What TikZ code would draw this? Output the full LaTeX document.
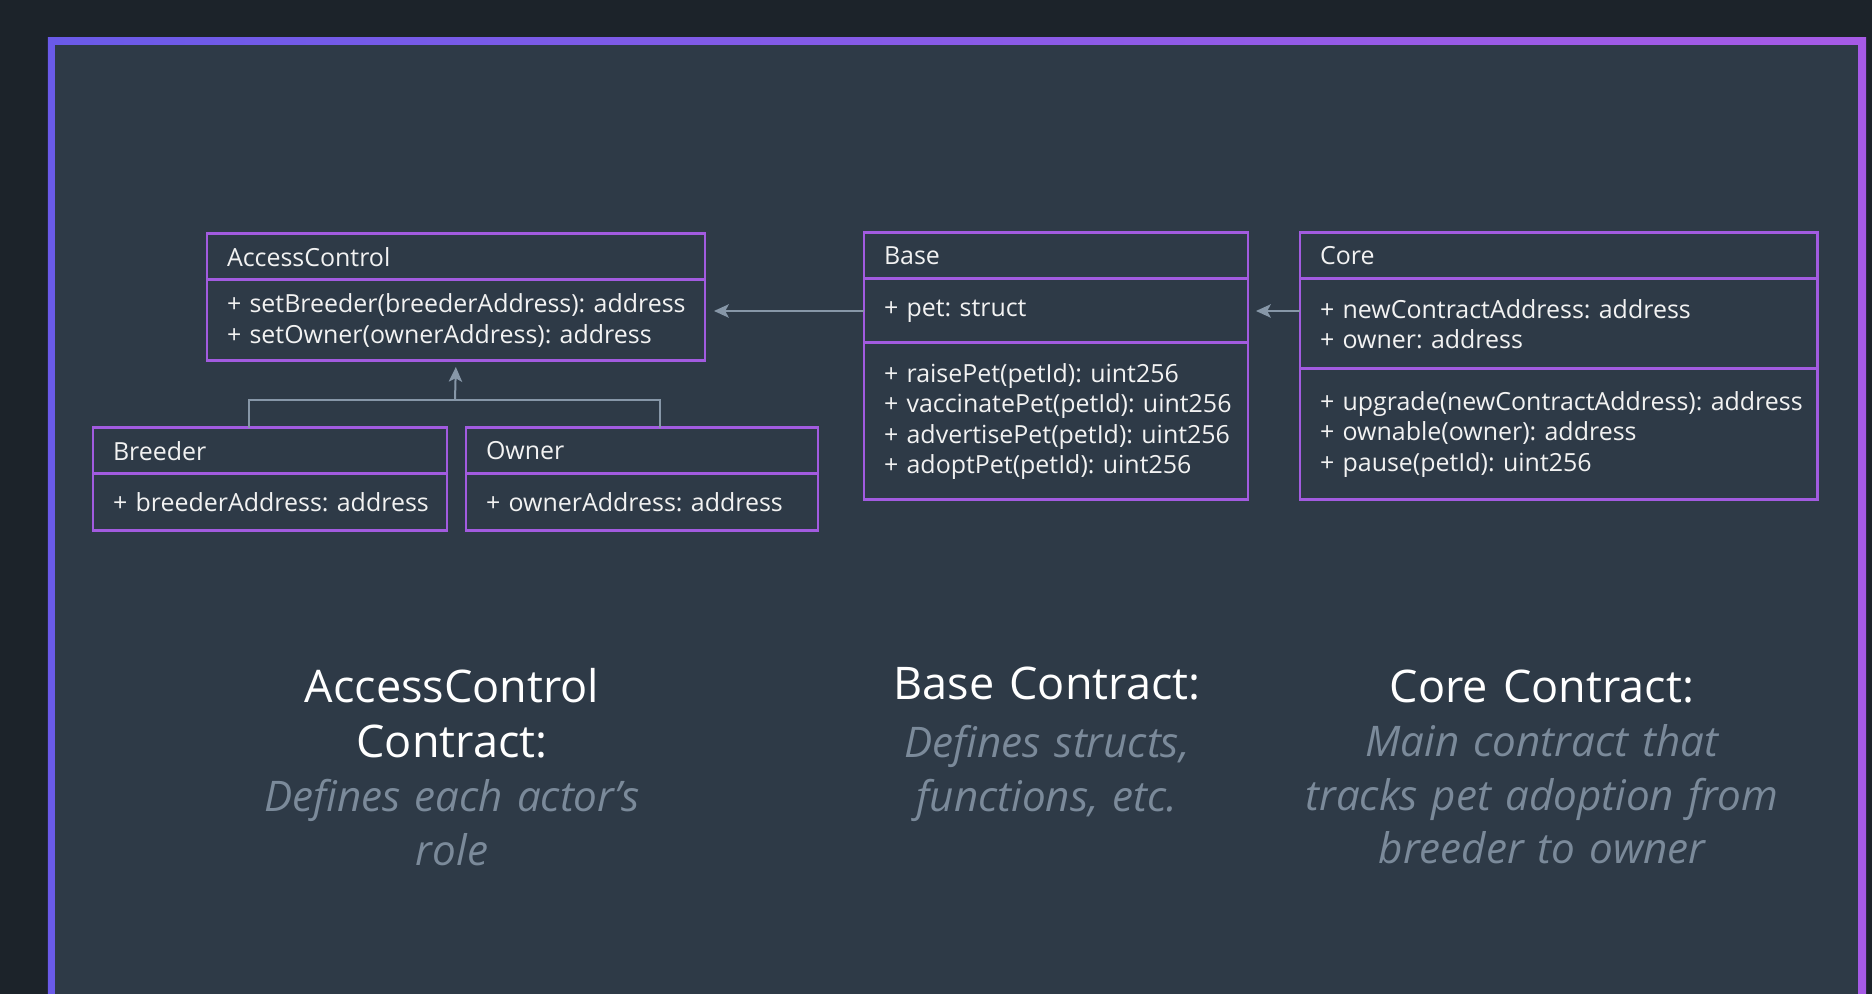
\documentclass[tikz,border=0pt]{standalone}
\usepackage{fontspec}
\setmainfont{Open Sans}
\usetikzlibrary{positioning,arrows.meta}

\definecolor{pagebg}{HTML}{1C232A}
\definecolor{panelbg}{HTML}{2E3A47}
\definecolor{boxline}{HTML}{A25BE0}
\definecolor{frameleft}{HTML}{6A5AE8}
\definecolor{frameright}{HTML}{A65AE6}
\definecolor{linkgray}{HTML}{8797A8}
\definecolor{descgray}{HTML}{7B8A9A}
\definecolor{boxtext}{HTML}{F2F2F2}

\begin{document}
\frenchspacing
\hyphenpenalty=10000
\exhyphenpenalty=10000
\begin{tikzpicture}[line width = 0.85pt,
  part/.style={rectangle, draw=boxline, anchor=north west, outer sep=0pt,
    inner xsep=0.2cm, inner ysep=0pt, text width=#1, align=left,
    text=boxtext, font=\fontsize{7.1}{8.7}\selectfont},
  heading/.style={anchor=base, text width=6cm, align=center, inner sep=0pt,
    text=white, font=\fontsize{12.8}{15.4}\selectfont},
  descr/.style={heading, text=descgray, font=\fontsize{12}{15.2}\selectfont\itshape},
  link/.style={draw=linkgray, line width=0.57pt},
  linkarrow/.style={link, -{Stealth[length=4.2pt, width=3.8pt, inset=1pt]}}]

% background and frame
\useasboundingbox (0,0) rectangle (18.72,-9.94);
\fill[pagebg] (0,0) rectangle (18.72,-9.94);
\shade[left color=frameleft, right color=frameright] (0.48,-0.38) rectangle (18.66,-9.94);
\fill[panelbg] (0.55,-0.45) rectangle (18.58,-9.94);

% AccessControl and actors
\node[part=4.58cm, minimum height=0.46cm] (AC) at (2.07,-2.34) {AccessControl};
\node[part=4.58cm, minimum height=0.81cm, below=0pt of AC] (ACm)
  {+~setBreeder(breederAddress):~address\\+~setOwner(ownerAddress):~address};

\node[part=3.14cm, minimum height=0.46cm] (Br) at (0.93,-4.28) {Breeder};
\node[part=3.14cm, minimum height=0.57cm, below=0pt of Br] (Bra) {+~breederAddress:~address};

\node[part=3.12cm, minimum height=0.46cm] (Ow) at (4.66,-4.28) {Owner};
\node[part=3.12cm, minimum height=0.57cm, below=0pt of Ow] (Owa) {+~ownerAddress:~address};

% Base
\node[part=3.44cm, minimum height=0.46cm] (Ba) at (8.64,-2.33) {Base};
\node[part=3.44cm, minimum height=0.64cm, below=0pt of Ba] (Baa) {+~pet:~struct};
\node[part=3.44cm, minimum height=1.57cm, below=0pt of Baa] (Bam)
  {+~raisePet(petId):~uint256\\+~vaccinatePet(petId):~uint256\\+~advertisePet(petId):~uint256\\+~adoptPet(petId):~uint256};

% Core
\node[part=4.77cm, minimum height=0.46cm] (Co) at (13.00,-2.33) {Core};
\node[part=4.77cm, minimum height=0.90cm, below=0pt of Co] (Coa)
  {+~newContractAddress:~address\\+~owner:~address};
\node[part=4.77cm, minimum height=1.31cm, below=0pt of Coa] (Com)
  {+~upgrade(newContractAddress):~address\\+~ownable(owner):~address\\+~pause(petId):~uint256};

% connectors
\draw[linkarrow, shorten >=0.08cm] (Coa.west |- Baa.west) -- (Baa.east);
\draw[linkarrow, shorten >=0.09cm] (Baa.west) -- (ACm.east |- Baa.west);
\coordinate (hub) at (4.55,-4.00);
\coordinate (brtop) at (2.49,-4.28);
\coordinate (owtop) at (6.60,-4.28);
\draw[link] (brtop) |- (hub) -| (owtop);
\draw[linkarrow, shorten >=0.06cm] (hub) -- (ACm.south);

% captions
\node[heading] (ACh) at (4.52,-7.03) {AccessControl\\Contract:};
\node[descr] (ACd) at (4.52,-8.12) {Defines each actor’s\\role};
\node[heading] (Bah) at (10.47,-7.00) {Base Contract:};
\node[descr] (Bad) at (10.47,-7.58) {Defines structs,\\functions, etc.};
\node[heading] (Coh) at (15.42,-7.03) {Core Contract:};
\node[descr] (Cod) at (15.42,-7.57) {Main contract that\\tracks pet adoption from\\breeder to owner};
\end{tikzpicture}
\end{document}
